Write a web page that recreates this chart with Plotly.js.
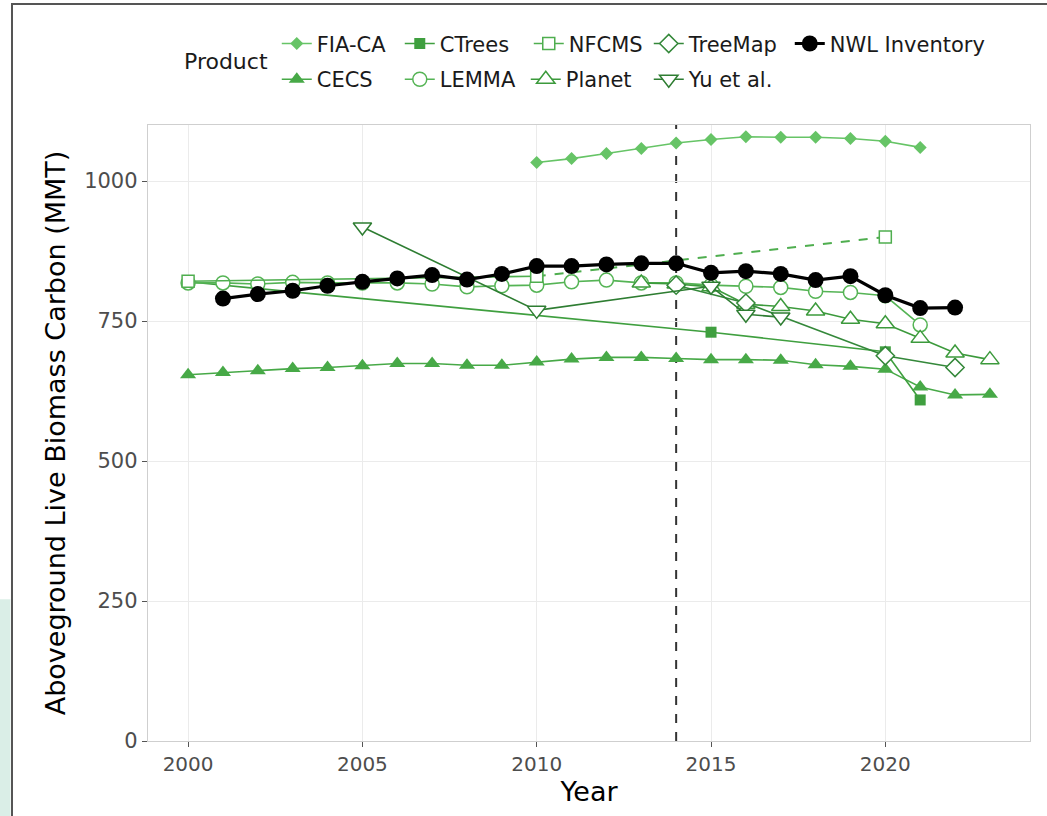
<!DOCTYPE html>
<html>
<head>
<meta charset="utf-8">
<script src="https://cdn.plot.ly/plotly-3.0.1.min.js"></script>
<style>
  html, body { margin: 0; padding: 0; background: #ffffff; }
  #chart { width: 1047px; height: 816px; }
</style>
</head>
<body>
<div id="chart"></div>
<script>
// ---------------- data ----------------
const fiaYears  = [2010, 2011, 2012, 2013, 2014, 2015, 2016, 2017, 2018, 2019, 2020, 2021];
const fiaValues = [1033, 1040, 1049, 1058, 1068, 1074, 1079, 1078, 1078, 1076, 1071, 1060];

const cecsYears  = [2000, 2001, 2002, 2003, 2004, 2005, 2006, 2007, 2008, 2009, 2010, 2011,
                    2012, 2013, 2014, 2015, 2016, 2017, 2018, 2019, 2020, 2021, 2022, 2023];
const cecsValues = [654, 658, 661, 665, 667, 670, 674, 674, 671, 671, 677, 682,
                    685, 685, 683, 681, 681, 680, 672, 669, 664, 632, 618, 619];

const ctreesYears  = [2000, 2015, 2020, 2021];
const ctreesValues = [820, 730, 695, 609];

const nfcmsYears  = [2000, 2010, 2020];
const nfcmsValues = [821, 830, 900];

const lemmaYears  = [2000, 2001, 2002, 2003, 2004, 2005, 2006, 2007, 2008, 2009, 2010,
                     2011, 2012, 2013, 2014, 2015, 2016, 2017, 2018, 2019, 2020, 2021];
const lemmaValues = [818, 818, 816, 819, 818, 818, 818, 816, 811, 813, 814,
                     820, 823, 818, 818, 814, 812, 810, 803, 801, 795, 743];

const planetYears  = [2013, 2014, 2015, 2016, 2017, 2018, 2019, 2020, 2021, 2022, 2023];
const planetValues = [818, 816, 811, 780, 776, 768, 753, 745, 719, 693, 681];

const treemapYears  = [2014, 2016, 2020, 2022];
const treemapValues = [814, 782, 688, 667];

const yuYears  = [2005, 2010, 2015, 2016, 2017];
const yuValues = [918, 769, 812, 762, 757];

const nwlYears  = [2001, 2002, 2003, 2004, 2005, 2006, 2007, 2008, 2009, 2010, 2011,
                   2012, 2013, 2014, 2015, 2016, 2017, 2018, 2019, 2020, 2021, 2022];
const nwlValues = [790, 798, 804, 813, 820, 826, 832, 824, 834, 848, 848,
                   851, 853, 853, 836, 839, 834, 823, 830, 796, 773, 774];

const referenceYear = 2014;
const xTicks = [2000, 2005, 2010, 2015, 2020];
const yTicks = [0, 250, 500, 750, 1000];

// ---------------- styling ----------------
const FONT = '"DejaVu Sans", "Noto Sans", sans-serif';
const C = {
  fia: '#66c466', cecs: '#47a947', ctrees: '#3f9f3f', nfcms: '#4fae4f',
  lemma: '#55b455', planet: '#3c9a3c', treemap: '#34883a', yu: '#2e7d32'
};

function series(name, x, y, color, symbol, size, opts) {
  opts = opts || {};
  const open = !!opts.open;
  return {
    type: 'scatter', mode: 'lines+markers', name: name, x: x, y: y,
    legend: opts.legend || 'legend', legendgroup: name,
    legendwidth: opts.lw, showlegend: opts.showlegend !== false,
    line: { color: color, width: opts.width || 1.6, dash: opts.dash || 'solid' },
    marker: {
      symbol: symbol, size: size,
      color: open ? '#ffffff' : color,
      line: { color: color, width: open ? 1.5 : 0 }
    },
    hoverinfo: 'x+y+name'
  };
}

const traces = [
  series('FIA-CA', fiaYears, fiaValues, C.fia, 'diamond', 10, { lw: 78 }),
  series('CECS', cecsYears, cecsValues, C.cecs, 'triangle-up', 14, { legend: 'legend2', lw: 78 }),
  series('CTrees', ctreesYears, ctreesValues, C.ctrees, 'square', 11, { lw: 84 }),
  series('LEMMA', lemmaYears, lemmaValues, C.lemma, 'circle', 14, { open: true, legend: 'legend2', lw: 81 }),
  series('NFCMS', nfcmsYears.slice(0, 2), nfcmsValues.slice(0, 2), C.nfcms, 'square', 12, { open: true, lw: 75 }),
  series('NFCMS', nfcmsYears.slice(1), nfcmsValues.slice(1), C.nfcms, 'square', 12, { open: true, dash: 'dash', showlegend: false, width: 2 }),
  series('Planet', planetYears, planetValues, C.planet, 'triangle-up', 16, { open: true, legend: 'legend2', lw: 78 }),
  series('TreeMap', treemapYears, treemapValues, C.treemap, 'diamond', 14, { open: true, lw: 96 }),
  series('Yu et al.', yuYears, yuValues, C.yu, 'triangle-down', 16, { open: true, legend: 'legend2', lw: 100 }),
  series('NWL Inventory', nwlYears, nwlValues, '#000000', 'circle', 16, { width: 3.2, lw: 170 })
];

const legendCommon = {
  orientation: 'h', xanchor: 'left', yanchor: 'top',
  font: { family: FONT, size: 21, color: '#1a1a1a' },
  bgcolor: 'rgba(0,0,0,0)', itemwidth: 30, tracegroupgap: 0
};

const layout = {
  width: 1047, height: 816,
  margin: { l: 148, r: 17, t: 125, b: 75, pad: 0 },
  paper_bgcolor: '#ffffff', plot_bgcolor: '#ffffff',
  font: { family: FONT, color: '#000000' },
  showlegend: true,
  legend: Object.assign({}, legendCommon, { x: 0.146, y: 1.165 }),
  legend2: Object.assign({}, legendCommon, { x: 0.146, y: 1.107 }),
  xaxis: {
    range: [1998.85, 2024.15], tickvals: xTicks, ticktext: xTicks.map(String),
    showgrid: true, gridcolor: '#ebebeb', gridwidth: 1, zeroline: false,
    showline: true, mirror: true, linecolor: '#cfcfcf', linewidth: 1.2,
    ticks: 'outside', ticklen: 5, tickcolor: '#555555', tickwidth: 1,
    tickfont: { family: FONT, size: 20, color: '#4d4d4d' },
    title: { text: 'Year', font: { family: FONT, size: 27, color: '#000000' }, standoff: 6 }
  },
  yaxis: {
    range: [0, 1100], tickvals: yTicks, ticktext: yTicks.map(String),
    showgrid: true, gridcolor: '#ebebeb', gridwidth: 1, zeroline: false,
    showline: true, mirror: true, linecolor: '#cfcfcf', linewidth: 1.2,
    ticks: 'outside', ticklen: 5, tickcolor: '#555555', tickwidth: 1,
    tickfont: { family: FONT, size: 21, color: '#4d4d4d' },
    title: { text: 'Aboveground Live Biomass Carbon (MMT)', font: { family: FONT, size: 27, color: '#000000' }, standoff: 10 }
  },
  shapes: [
    { type: 'line', xref: 'x', yref: 'paper', x0: referenceYear, x1: referenceYear, y0: 0, y1: 1,
      line: { color: '#333333', width: 2, dash: 'dash' }, layer: 'below' },
    // outer slide frame
    { type: 'rect', xref: 'paper', yref: 'paper', x0: -0.1542, x1: 1.04, y0: -0.16, y1: 1.1964,
      line: { color: '#555555', width: 2 }, fillcolor: 'rgba(0,0,0,0)' },
    // faint decorative corner outside the frame
    { type: 'rect', xref: 'paper', yref: 'paper', x0: -0.175, x1: -0.156, y0: -0.17, y1: 0.23,
      line: { width: 0 }, fillcolor: 'rgba(150,205,185,0.35)' }
  ],
  annotations: [
    { text: 'Product', xref: 'paper', yref: 'paper', x: 0.039, y: 1.1023,
      xanchor: 'left', yanchor: 'middle', showarrow: false,
      font: { family: FONT, size: 22, color: '#1a1a1a' } }
  ]
};

Plotly.newPlot('chart', traces, layout, { displayModeBar: false, staticPlot: true });
</script>
</body>
</html>
